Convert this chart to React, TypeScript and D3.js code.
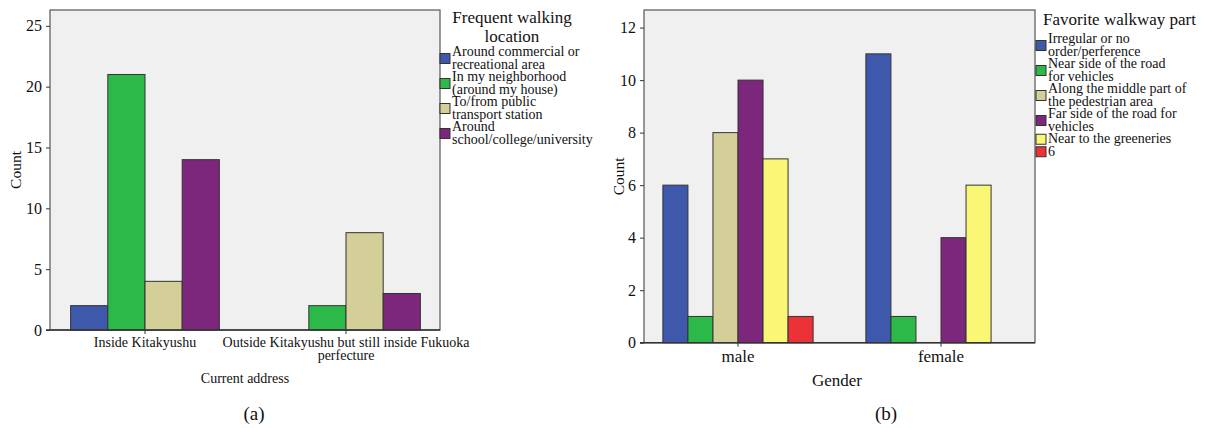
import React, { useEffect, useRef } from "react";
import * as d3 from "d3";

// chart (a)
const addressCategories = ["Inside Kitakyushu", "Outside Kitakyushu but still inside Fukuoka\nperfecture"];
const locationKeys = [
  "Around commercial or\nrecreational area",
  "In my neighborhood\n(around my house)",
  "To/from public\ntransport station",
  "Around\nschool/college/university",
];
const locationColors = ["#3e58ac", "#2db84a", "#d4cf98", "#7c277b"];
const insideCounts = [2, 21, 4, 14];
const outsideCounts = [0, 2, 8, 3];
const addressTicks = [0, 5, 10, 15, 20, 25];

// chart (b)
const genderCategories = ["male", "female"];
const walkwayKeys = [
  "Irregular or no\norder/perference",
  "Near side of the road\nfor vehicles",
  "Along the middle part of\nthe pedestrian area",
  "Far side of the road for\nvehicles",
  "Near to the greeneries",
  "6",
];
const walkwayColors = ["#3e58ac", "#2db84a", "#d4cf98", "#7c277b", "#fbf776", "#ec3237"];
const maleCounts = [6, 1, 8, 10, 7, 1];
const femaleCounts = [11, 1, 0, 4, 6, 0];
const genderTicks = [0, 2, 4, 6, 8, 10, 12];

const FONT = "'Liberation Serif', 'DejaVu Serif', serif";

function drawPanel(svg, o) {
  const g = svg.append("g");
  const y = d3.scaleLinear().domain([0, o.yMax]).range([o.bottom, o.top]);
  const x0 = d3.scaleBand().domain(o.categories).range(o.xRange).paddingInner(0.26).paddingOuter(0.13);
  const x1 = d3.scaleBand().domain(o.keys).range([0, x0.bandwidth()]);

  g.append("rect")
    .attr("x", o.left).attr("y", o.top)
    .attr("width", o.right - o.left).attr("height", o.bottom - o.top)
    .attr("fill", "#f0f0f0").attr("stroke", "#555").attr("stroke-width", 1.2);

  // bars
  o.categories.forEach((c, ci) => {
    o.keys.forEach((k, ki) => {
      const v = o.values[ci][ki];
      if (!v) return;
      g.append("rect")
        .attr("x", x0(c) + x1(k)).attr("y", y(v))
        .attr("width", x1.bandwidth()).attr("height", o.bottom - y(v))
        .attr("fill", o.colors[ki]).attr("stroke", "#333").attr("stroke-width", 1);
    });
  });

  // y axis
  const ya = g.append("g").attr("transform", `translate(${o.left},0)`)
    .call(d3.axisLeft(y).tickValues(o.ticks).tickSize(4).tickPadding(4));
  ya.select(".domain").remove();
  ya.selectAll("line").attr("stroke", "#333");
  ya.selectAll("text").attr("font-family", FONT).attr("font-size", o.tickFont).attr("fill", "#111");

  // x axis
  g.append("line").attr("x1", o.left - 4).attr("x2", o.right)
    .attr("y1", o.bottom).attr("y2", o.bottom).attr("stroke", "#333").attr("stroke-width", 1.5);
  o.categories.forEach((c) => {
    const cx = x0(c) + x0.bandwidth() / 2;
    g.append("line").attr("x1", cx).attr("x2", cx).attr("y1", o.bottom).attr("y2", o.bottom + 4).attr("stroke", "#333");
    const t = g.append("text").attr("text-anchor", "middle").attr("font-family", FONT)
      .attr("font-size", o.catFont).attr("fill", "#111");
    c.split("\n").forEach((line, i) => {
      t.append("tspan").attr("x", cx).attr("y", o.bottom + o.catDy + i * o.catLine).text(line);
    });
  });

  g.append("text").attr("x", o.xTitleX).attr("y", o.xTitleY).attr("text-anchor", "middle")
    .attr("font-family", FONT).attr("font-size", o.xTitleFont).attr("fill", "#111").text(o.xTitle);
  g.append("text").attr("transform", `translate(${o.yTitleX},${(o.top + o.bottom) / 2}) rotate(-90)`)
    .attr("text-anchor", "middle").attr("font-family", FONT).attr("font-size", 15.5).attr("fill", "#111").text("Count");
  g.append("text").attr("x", o.capX).attr("y", 420).attr("text-anchor", "middle")
    .attr("font-family", FONT).attr("font-size", 19).attr("fill", "#111").text(o.caption);

  // legend
  const lg = g.append("g");
  o.titleLines.forEach((line, i) => {
    lg.append("text").attr("x", o.titleX).attr("y", o.titleY + i * 18.5).attr("text-anchor", o.titleAnchor)
      .attr("font-family", FONT).attr("font-size", 17).attr("fill", "#111").text(line);
  });
  let yy = o.legendY;
  o.keys.forEach((k, i) => {
    const lines = k.split("\n");
    const h = lines.length * 12.5;
    const mid = yy + h / 2;
    lg.append("rect").attr("x", o.right + o.swatchDx).attr("y", mid - 5).attr("width", 10).attr("height", 10)
      .attr("fill", o.colors[i]).attr("stroke", "#333").attr("stroke-width", 1);
    const t = lg.append("text").attr("font-family", FONT).attr("font-size", 14).attr("fill", "#111");
    lines.forEach((line, li) => {
      t.append("tspan").attr("x", o.right + o.swatchDx + 12).attr("y", yy + 10 + li * 12.5).text(line);
    });
    yy += h;
  });
}

export default function App() {
  const ref = useRef(null);
  useEffect(() => {
    const svg = d3.select(ref.current);
    svg.selectAll("*").remove();
    drawPanel(svg, {
      categories: addressCategories, keys: locationKeys, colors: locationColors,
      values: [insideCounts, outsideCounts], ticks: addressTicks,
      yMax: 26.3, top: 10, bottom: 330, left: 50, right: 440, xRange: [44.5, 446.5],
      tickFont: 16, catFont: 14, catDy: 17, catLine: 13,
      xTitle: "Current address", xTitleX: 245, xTitleY: 383, xTitleFont: 14,
      yTitleX: 21, caption: "(a)", capX: 254,
      titleLines: ["Frequent walking", "location"], titleX: 512, titleY: 23, titleAnchor: "middle",
      legendY: 46, swatchDx: 0,
    });
    drawPanel(svg, {
      categories: genderCategories, keys: walkwayKeys, colors: walkwayColors,
      values: [maleCounts, femaleCounts], ticks: genderTicks,
      yMax: 12.67, top: 10, bottom: 342.7, left: 644, right: 1035, xRange: [636.5, 1042.5],
      tickFont: 16, catFont: 17, catDy: 19, catLine: 15,
      xTitle: "Gender", xTitleX: 837, xTitleY: 386, xTitleFont: 17,
      yTitleX: 624, caption: "(b)", capX: 886,
      titleLines: ["Favorite walkway part"], titleX: 1043, titleY: 25, titleAnchor: "start",
      legendY: 33, swatchDx: 1,
    });
  }, []);
  return (
    <svg ref={ref} width={1210} height={428} style={{ position: "absolute", left: 0, top: 0, background: "#fff" }} />
  );
}
